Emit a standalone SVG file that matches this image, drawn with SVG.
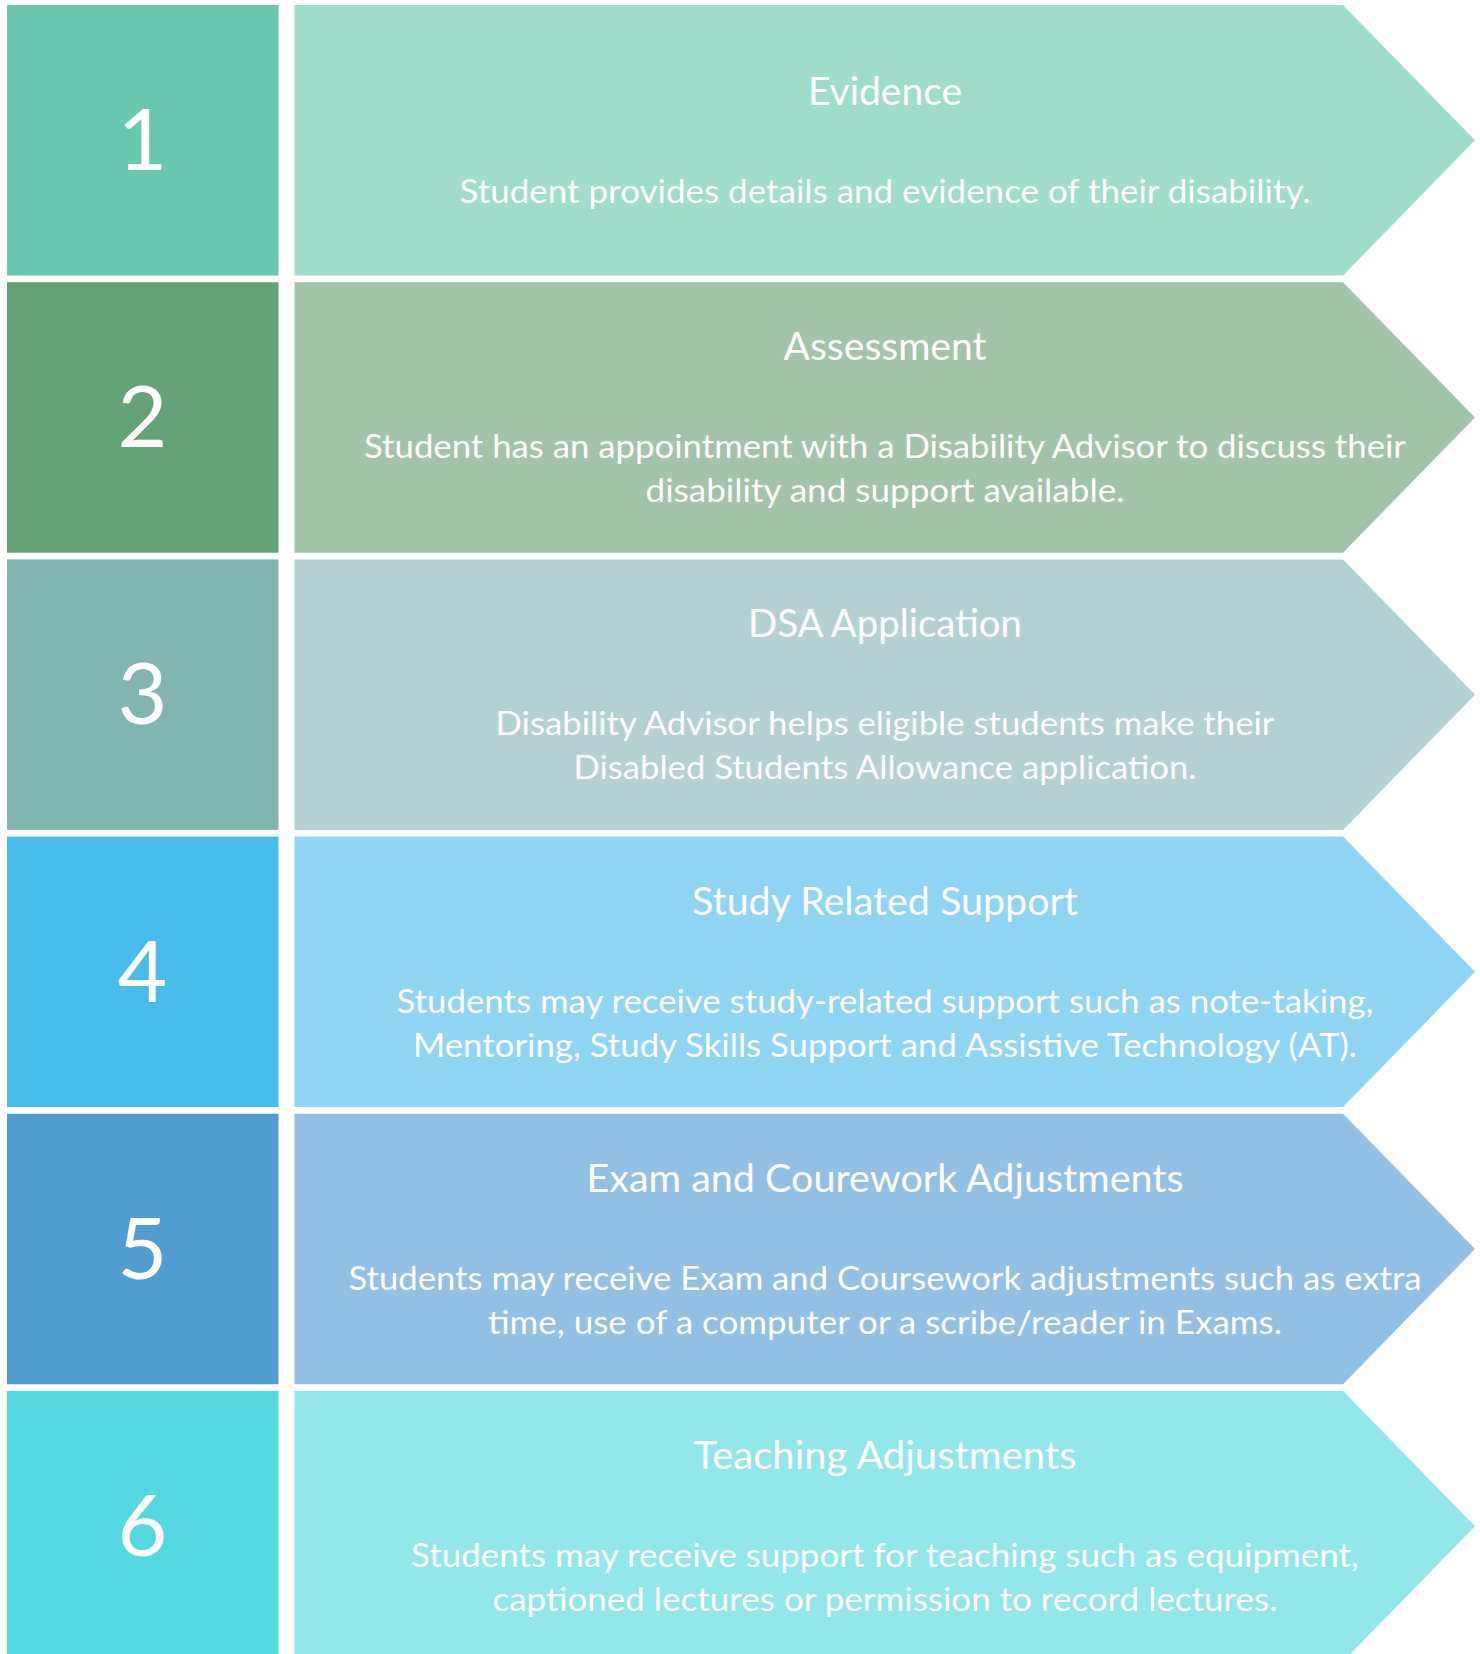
<svg xmlns="http://www.w3.org/2000/svg" width="1480" height="1654" viewBox="0 0 1480 1654">
  <style>
    text { font-family: Lato, "Open Sans", "Liberation Sans", sans-serif; fill: #ffffff; text-anchor: middle; }
    .num { font-size: 86px; }
    .title { font-size: 39px; }
    .body { font-size: 33.5px; }
  </style>
  <defs>
    <path id="chev" d="M294.5 0 H1343 L1475 135.25 L1343 270.5 H294.5 Z"/>
  </defs>
  <rect x="0" y="0" width="1480" height="1654" fill="#ffffff"/>

  <g id="step1" transform="translate(0,5)">
    <rect x="7" y="0" width="271.5" height="270.5" fill="#69C8AD"/>
    <use href="#chev" fill="#A1DDCB"/>
    <text class="num" x="142.5" y="165">1</text>
    <text class="title" x="885" y="100" textLength="154" lengthAdjust="spacingAndGlyphs">Evidence</text>
    <text class="body" x="885" y="198" textLength="851" lengthAdjust="spacingAndGlyphs">Student provides details and evidence of their disability.</text>
  </g>

  <g id="step2" transform="translate(0,282.2)">
    <rect x="7" y="0" width="271.5" height="270.5" fill="#65A275"/>
    <use href="#chev" fill="#A2C4AA"/>
    <text class="num" x="142.5" y="165">2</text>
    <text class="title" x="885" y="78" textLength="203" lengthAdjust="spacingAndGlyphs">Assessment</text>
    <text class="body" x="885" y="176" textLength="1042" lengthAdjust="spacingAndGlyphs">Student has an appointment with a Disability Advisor to discuss their</text>
    <text class="body" x="885" y="220" textLength="479" lengthAdjust="spacingAndGlyphs">disability and support available.</text>
  </g>

  <g id="step3" transform="translate(0,559.4)">
    <rect x="7" y="0" width="271.5" height="270.5" fill="#82B4B0"/>
    <use href="#chev" fill="#B3D2D1"/>
    <text class="num" x="142.5" y="165">3</text>
    <text class="title" x="885" y="78" textLength="274" lengthAdjust="spacingAndGlyphs">DSA Application</text>
    <text class="body" x="885" y="176" textLength="779" lengthAdjust="spacingAndGlyphs">Disability Advisor helps eligible students make their</text>
    <text class="body" x="885" y="220" textLength="623" lengthAdjust="spacingAndGlyphs">Disabled Students Allowance application.</text>
  </g>

  <g id="step4" transform="translate(0,836.6)">
    <rect x="7" y="0" width="271.5" height="270.5" fill="#4ABCE9"/>
    <use href="#chev" fill="#90D5F2"/>
    <text class="num" x="142.5" y="165">4</text>
    <text class="title" x="885" y="78" textLength="386" lengthAdjust="spacingAndGlyphs">Study Related Support</text>
    <text class="body" x="885" y="176" textLength="977" lengthAdjust="spacingAndGlyphs">Students may receive study-related support such as note-taking,</text>
    <text class="body" x="885" y="220" textLength="944" lengthAdjust="spacingAndGlyphs">Mentoring, Study Skills Support and Assistive Technology (AT).</text>
  </g>

  <g id="step5" transform="translate(0,1113.8)">
    <rect x="7" y="0" width="271.5" height="270.5" fill="#529DD0"/>
    <use href="#chev" fill="#94C0E3"/>
    <text class="num" x="142.5" y="165">5</text>
    <text class="title" x="885" y="78" textLength="597" lengthAdjust="spacingAndGlyphs">Exam and Courework Adjustments</text>
    <text class="body" x="885" y="176" textLength="1073" lengthAdjust="spacingAndGlyphs">Students may receive Exam and Coursework adjustments such as extra</text>
    <text class="body" x="885" y="220" textLength="794" lengthAdjust="spacingAndGlyphs">time, use of a computer or a scribe/reader in Exams.</text>
  </g>

  <g id="step6" transform="translate(0,1391)">
    <rect x="7" y="0" width="271.5" height="270.5" fill="#55D9E0"/>
    <use href="#chev" fill="#93E7EA"/>
    <text class="num" x="142.5" y="165">6</text>
    <text class="title" x="885" y="78" textLength="383" lengthAdjust="spacingAndGlyphs">Teaching Adjustments</text>
    <text class="body" x="885" y="176" textLength="948" lengthAdjust="spacingAndGlyphs">Students may receive support for teaching such as equipment,</text>
    <text class="body" x="885" y="220" textLength="785" lengthAdjust="spacingAndGlyphs">captioned lectures or permission to record lectures.</text>
  </g>
</svg>
